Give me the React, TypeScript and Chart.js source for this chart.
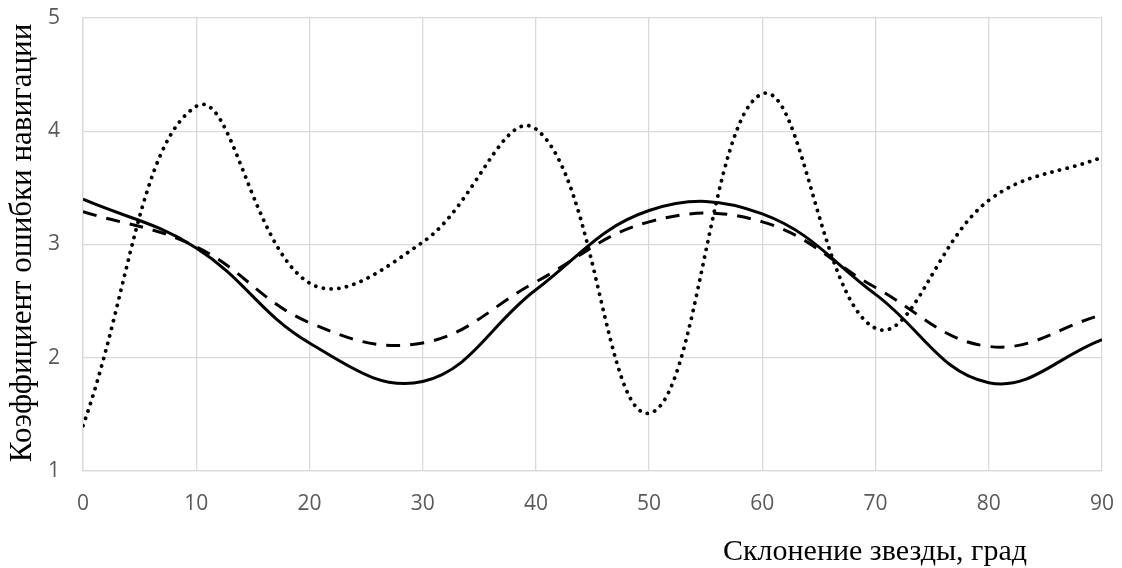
import React, { useEffect, useRef } from "react";
import { Chart, registerables } from "chart.js";

Chart.register(...registerables);

const declination = [0, 10, 20, 30, 40, 50, 60, 70, 80, 90];
const solidSeries = [3.4, 2.97, 2.13, 1.79, 2.6, 3.3, 3.27, 2.56, 1.78, 2.16];
const dashedSeries = [3.29, 2.98, 2.31, 2.13, 2.67, 3.2, 3.2, 2.62, 2.1, 2.38];
const dottedSeries = [1.4, 4.22, 2.66, 3.02, 4.02, 1.51, 4.33, 2.26, 3.39, 3.77];

const xTitle = "Склонение звезды, град";
const yTitle = "Коэффициент ошибки навигации";

const toPoints = (ys: number[]) => declination.map((x, i) => ({ x, y: ys[i] }));

const titlesPlugin = {
  id: "titles",
  afterDraw(chart: any) {
    const ctx = chart.ctx;
    ctx.save();
    ctx.fillStyle = "#000000";
    ctx.font = '30px "Liberation Serif"';
    ctx.textAlign = "center";
    ctx.textBaseline = "middle";
    ctx.fillText(xTitle, 875, 552);
    ctx.font = '31px "Liberation Serif"';
    ctx.translate(23, 243);
    ctx.rotate(-Math.PI / 2);
    ctx.fillText(yTitle, 0, 0);
    ctx.restore();
  },
};

export default function App() {
  const ref = useRef<HTMLCanvasElement>(null);
  useEffect(() => {
    if (!ref.current) return;
    const chart = new Chart(ref.current, {
      type: "line",
      data: {
        datasets: [
          {
            data: toPoints(solidSeries),
            borderColor: "#000000",
            borderWidth: 3,
            pointRadius: 0,
            tension: 0.4,
            fill: false,
          },
          {
            data: toPoints(dashedSeries),
            borderColor: "#000000",
            borderWidth: 3,
            borderDash: [14, 10],
            pointRadius: 0,
            tension: 0.4,
            fill: false,
          },
          {
            data: toPoints(dottedSeries),
            borderColor: "#000000",
            borderWidth: 3.8,
            borderDash: [0.1, 7.7],
            borderCapStyle: "round",
            pointRadius: 0,
            tension: 0.4,
            fill: false,
          },
        ],
      },
      options: {
        animation: false,
        responsive: false,
        maintainAspectRatio: false,
        layout: { padding: { left: 0, right: 20, top: 18, bottom: 0 } },
        plugins: { legend: { display: false }, tooltip: { enabled: false } },
        scales: {
          x: {
            type: "linear",
            min: 0,
            max: 90,
            ticks: {
              stepSize: 10,
              color: "#595959",
              font: { family: "Open Sans", size: 21 },
              padding: 20,
            },
            grid: { color: "#d9d9d9", lineWidth: 1.3, drawTicks: false },
            border: { color: "#d9d9d9", width: 1.3 },
            afterFit(scale: any) {
              scale.height = 97;
              scale.paddingLeft = 0;
              scale.paddingRight = 0;
              scale.paddingTop = 0;
              scale.paddingBottom = 0;
            },
          },
          y: {
            min: 1,
            max: 5,
            ticks: {
              stepSize: 1,
              color: "#595959",
              font: { family: "Open Sans", size: 21 },
              padding: 23,
            },
            grid: { color: "#d9d9d9", lineWidth: 1.3, drawTicks: false },
            border: { color: "#d9d9d9", width: 1.3 },
            afterFit(scale: any) {
              scale.width = 83;
              scale.paddingLeft = 0;
              scale.paddingRight = 0;
              scale.paddingTop = 0;
              scale.paddingBottom = 0;
            },
          },
        },
      },
      plugins: [titlesPlugin],
    });
    return () => chart.destroy();
  }, []);
  return (
    <div style={{ position: "absolute", left: 0, top: 0, width: 1122, height: 568, background: "#fff" }}>
      <canvas ref={ref} width={1122} height={568} style={{ width: 1122, height: 568 }} />
    </div>
  );
}
